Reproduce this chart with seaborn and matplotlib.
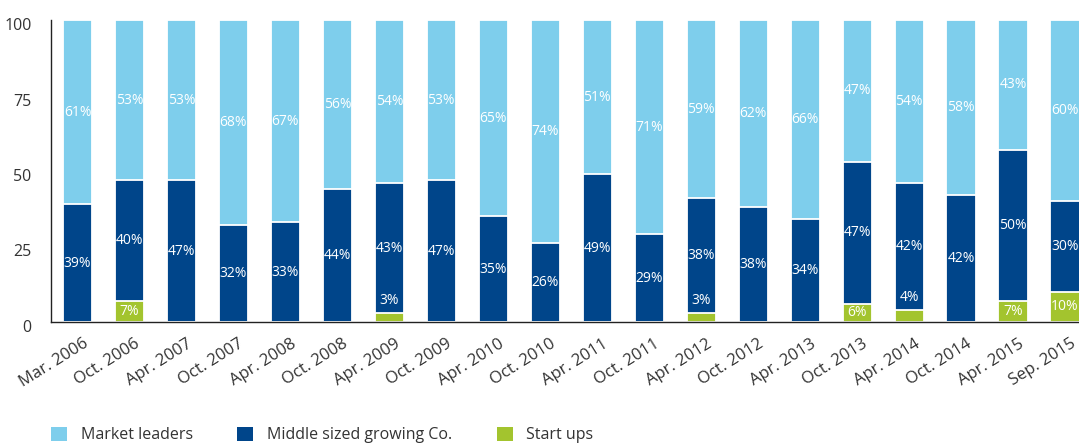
import numpy as np
import pandas as pd
import matplotlib
matplotlib.use("Agg")
import matplotlib.pyplot as plt
import matplotlib.transforms as mtransforms
import seaborn as sns
from matplotlib.patches import Patch

categories = ["Mar. 2006", "Oct. 2006", "Apr. 2007", "Oct. 2007", "Apr. 2008",
              "Oct. 2008", "Apr. 2009", "Oct. 2009", "Apr. 2010", "Oct. 2010",
              "Apr. 2011", "Oct. 2011", "Apr. 2012", "Oct. 2012", "Apr. 2013",
              "Oct. 2013", "Apr. 2014", "Oct. 2014", "Apr. 2015", "Sep. 2015"]
market_leaders = [61, 53, 53, 68, 67, 56, 54, 53, 65, 74, 51, 71, 59, 62, 66, 47, 54, 58, 43, 60]
middle_sized = [39, 40, 47, 32, 33, 44, 43, 47, 35, 26, 49, 29, 38, 38, 34, 47, 42, 42, 50, 30]
start_ups = [0, 7, 0, 0, 0, 0, 3, 0, 0, 0, 0, 0, 3, 0, 0, 6, 4, 0, 7, 10]
series_names = ["Market leaders", "Middle sized growing Co.", "Start ups"]
yticks = [0, 25, 50, 75, 100]

C_LIGHT = "#7ECEEC"
C_DARK = "#00458A"
C_GREEN = "#A3C42E"
TXT = "#333333"

sns.set_theme(style="white")
plt.rcParams["font.family"] = ["Open Sans", "DejaVu Sans"]

ml = np.array(market_leaders, dtype=float)
mid = np.array(middle_sized, dtype=float)
st = np.array(start_ups, dtype=float)

df = pd.DataFrame({"cat": categories,
                   "total": ml + mid + st,
                   "midtop": mid + st,
                   "start": st})

fig = plt.figure(figsize=(10.79, 4.45), dpi=100)
ax = fig.add_axes([51 / 1079, 1 - 322 / 445, 1 - 51 / 1079, (322 - 20) / 445])

bw = 0.56
kw = dict(edgecolor="white", linewidth=1.3, width=bw, saturation=1, ax=ax)
sns.barplot(data=df, x="cat", y="total", color=C_LIGHT, **kw)
sns.barplot(data=df, x="cat", y="midtop", color=C_DARK, **kw)
sns.barplot(data=df, x="cat", y="start", color=C_GREEN, **kw)

lab_kw = dict(ha="center", va="center", color="white", fontsize=10)
for i in range(len(categories)):
    s, m, l = st[i], mid[i], ml[i]
    ax.text(i, s + m + l / 2, f"{int(l)}%", **lab_kw)
    ax.text(i, s + m / 2, f"{int(m)}%", **lab_kw)
    if s > 0:
        if s >= 5:
            ax.text(i, s / 2, f"{int(s)}%", **lab_kw)
        else:
            ax.text(i, s + 4, f"{int(s)}%", **lab_kw)

ax.set_xlim(-0.51, 19.27)
ax.set_ylim(0, 100)
ax.set_yticks(yticks)
ax.set_yticklabels([str(v) for v in yticks], fontsize=11.5, color=TXT)
ax.set_xlabel("")
ax.set_ylabel("")
ax.set_xticks(range(len(categories)))
ax.set_xticklabels(categories, rotation=32, ha="right", rotation_mode="anchor",
                   fontsize=12, color=TXT)
ax.tick_params(axis="y", length=0, pad=14)
ax.tick_params(axis="x", length=0, pad=10)
off = mtransforms.ScaledTranslation(0, -4 / 100, fig.dpi_scale_trans)
for t in ax.get_yticklabels():
    t.set_transform(t.get_transform() + off)
off_x = mtransforms.ScaledTranslation(5 / 100, 0, fig.dpi_scale_trans)
for t in ax.get_xticklabels():
    t.set_transform(t.get_transform() + off_x)
for sp in ["top", "right"]:
    ax.spines[sp].set_visible(False)
for sp in ["left", "bottom"]:
    ax.spines[sp].set_color("#222222")
    ax.spines[sp].set_linewidth(1.0)
ax.grid(False)

handles = [Patch(facecolor=C_LIGHT, edgecolor="none"),
           Patch(facecolor=C_DARK, edgecolor="none"),
           Patch(facecolor=C_GREEN, edgecolor="none")]
fig.legend(handles, series_names, loc="center left",
           bbox_to_anchor=(51 / 1079, 1 - 435 / 445), ncol=3, frameon=False,
           borderpad=0, borderaxespad=0, handlelength=1.0, handleheight=1.0,
           handletextpad=0.85, columnspacing=2.8, fontsize=11.5,
           labelcolor=TXT)

fig.savefig("out.png", dpi=100)
